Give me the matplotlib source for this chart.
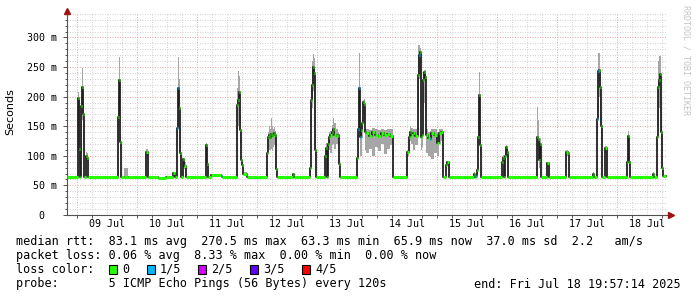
import numpy as np
import matplotlib
matplotlib.use("Agg")
import matplotlib.pyplot as plt
from matplotlib.patches import Rectangle

# time of each sample (hours after 2025-07-09 00:00), median rtt and smoke range (ms)
hours = [-4.05, 0.4, 0.8, 1.2, 1.6, 2.0, 2.4, 2.8, 3.6, 4.0, 4.4,
         16.4, 16.8, 17.2, 17.6, 18.8, 20.4,
         27.6, 28.4, 32.4, 35.6, 38.4, 39.2, 40.0, 40.4, 40.8, 41.2, 41.6, 42.4, 42.8, 43.6,
         51.6, 52.0, 52.4, 53.6, 57.6, 58.0, 64.0, 64.4, 64.8, 65.2, 65.6, 66.0, 66.4, 68.0,
         76.0, 76.4, 76.8, 77.2, 77.6, 78.0, 78.4, 78.8, 79.2, 79.6, 80.0, 86.4, 86.8,
         93.2, 93.6, 94.0, 94.4, 94.8, 95.2, 95.6, 99.2, 99.6, 100.0, 100.4, 100.8, 101.2,
         102.0, 102.4, 102.8, 103.6, 104.4, 104.8, 105.2,
         112.0, 112.4, 112.8, 113.2, 113.6, 114.0, 114.4, 114.8, 115.2, 115.6, 116.8, 118.0,
         119.2, 120.4, 121.6, 122.8, 124.0, 125.2, 126.4,
         132.0, 132.8, 133.2, 133.6, 134.4, 135.2, 136.4, 136.8, 137.2, 137.6, 138.0, 138.4,
         138.8, 139.2, 139.6, 140.4, 141.2, 141.6, 142.8, 144.0, 144.8, 145.6, 146.4,
         147.6, 148.0, 148.8,
         158.8, 159.2, 159.6, 160.0, 160.4, 160.8, 161.2, 161.6,
         170.0, 170.4, 170.8, 171.2, 171.6, 172.0, 172.4,
         184.0, 184.4, 184.8, 185.2, 185.6, 188.0, 188.8, 195.6, 196.4, 196.8,
         206.4, 206.8, 208.0, 208.4, 208.8, 209.2, 209.6, 210.0, 211.2, 212.0,
         220.0, 220.4, 220.8, 221.2, 230.4, 230.8,
         232.0, 232.4, 232.8, 233.2, 233.6, 234.0, 234.4, 235.6]

median_ms = [65, 197, 112, 65, 184, 217, 170, 65, 100, 97, 65,
             166, 229, 124, 65, 65, 65,
             107, 65, 63, 65, 71, 65, 147, 214, 180, 105, 65, 95, 83, 65,
             118, 87, 65, 67, 66, 65, 186, 194, 208, 144, 93, 85, 70, 65,
             105, 132, 135, 130, 137, 133, 136, 138, 135, 77, 65, 69, 65,
             79, 194, 220, 250, 240, 110, 65, 100, 113, 65, 120, 132, 135,
             140, 145, 135, 133, 135, 87, 65,
             96, 146, 214, 132, 144, 155, 191, 188, 140, 138, 134, 140,
             136, 133, 138, 135, 137, 134, 65,
             107, 132, 140, 135, 138, 133, 237, 270, 276, 132, 135, 228,
             242, 234, 135, 130, 129, 138, 135, 121, 138, 140, 65,
             85, 90, 65,
             70, 65, 66, 76, 132, 203, 118, 65,
             90, 96, 65, 100, 115, 107, 65,
             131, 129, 93, 120, 65, 88, 65, 107, 105, 65,
             70, 65, 163, 243, 245, 217, 150, 65, 113, 65,
             90, 133, 90, 65, 70, 65,
             132, 217, 229, 239, 140, 80, 66, 66]

smoke_lo = [64, 120, 85, 64, 100, 160, 120, 64, 95, 92, 64,
            125, 180, 110, 64, 64, 64,
            100, 64, 62, 64, 66, 64, 120, 150, 140, 95, 64, 90, 78, 64,
            110, 80, 64, 66, 65, 64, 140, 150, 160, 120, 88, 78, 68, 64,
            100, 115, 110, 110, 112, 108, 115, 118, 120, 72, 64, 66, 64,
            72, 150, 180, 210, 200, 90, 64, 95, 95, 64, 100, 110, 105,
            118, 120, 112, 120, 115, 80, 64,
            90, 130, 170, 100, 100, 130, 170, 160, 110, 105, 112, 100,
            115, 108, 120, 103, 112, 118, 64,
            100, 110, 125, 120, 110, 118, 180, 230, 230, 110, 115, 180,
            190, 180, 105, 100, 100, 95, 105, 100, 120, 125, 64,
            80, 85, 64,
            66, 64, 65, 70, 118, 150, 100, 64,
            85, 90, 64, 92, 105, 100, 64,
            115, 110, 80, 100, 64, 84, 64, 100, 100, 64,
            66, 64, 133, 180, 200, 160, 130, 64, 105, 64,
            85, 110, 85, 64, 66, 64,
            110, 150, 180, 200, 120, 72, 65, 65]

smoke_hi = [66, 208, 195, 66, 200, 249, 205, 66, 106, 104, 66,
            200, 267, 135, 66, 80, 66,
            111, 66, 64, 66, 73, 66, 160, 267, 230, 110, 66, 97, 90, 66,
            121, 95, 66, 68, 67, 66, 215, 244, 235, 170, 100, 90, 72, 66,
            108, 140, 150, 145, 164, 150, 145, 148, 142, 85, 66, 71, 66,
            85, 215, 260, 272, 265, 140, 66, 105, 122, 66, 125, 140, 142,
            152, 164, 155, 145, 140, 95, 66,
            100, 200, 274, 150, 150, 165, 195, 196, 145, 146, 144, 147,
            145, 144, 146, 144, 146, 145, 66,
            110, 140, 150, 147, 145, 146, 287, 287, 282, 140, 142, 242,
            245, 245, 145, 140, 142, 146, 145, 140, 146, 146, 66,
            90, 92, 66,
            72, 66, 67, 85, 180, 242, 130, 66,
            100, 101, 66, 104, 118, 112, 66,
            182, 160, 120, 130, 66, 90, 66, 110, 108, 66,
            72, 66, 190, 274, 274, 240, 170, 66, 116, 66,
            100, 142, 100, 66, 72, 66,
            140, 260, 268, 268, 200, 90, 67, 67]

# packet loss per sample (n of 5 pings lost)
loss = [0, 0, 0, 0, 0, 0, 0, 0, 0, 0, 0,
        0, 0, 0, 0, 0, 0,
        0, 0, 0, 0, 0, 0, 1, 1, 0, 0, 0, 0, 0, 0,
        0, 0, 0, 0, 1, 0, 0, 0, 0, 0, 0, 0, 0, 0,
        0, 0, 0, 0, 0, 0, 0, 0, 0, 0, 0, 0, 0,
        0, 0, 0, 0, 0, 0, 0, 0, 0, 0, 0, 0, 0,
        0, 0, 0, 0, 0, 0, 0,
        0, 1, 1, 1, 0, 0, 0, 0, 0, 0, 0, 0,
        0, 0, 0, 0, 0, 0, 0,
        0, 0, 0, 0, 0, 0, 0, 1, 0, 0, 0, 0,
        0, 0, 0, 0, 1, 0, 0, 0, 0, 0, 0,
        0, 0, 0,
        0, 0, 1, 0, 0, 0, 0, 0,
        0, 0, 0, 0, 0, 0, 0,
        0, 0, 0, 0, 0, 0, 0, 0, 0, 0,
        0, 0, 1, 1, 0, 0, 0, 0, 0, 0,
        0, 0, 0, 0, 0, 0,
        0, 0, 0, 0, 0, 0, 0, 0]

day_labels = ["09 Jul", "10 Jul", "11 Jul", "12 Jul", "13 Jul",
              "14 Jul", "15 Jul", "16 Jul", "17 Jul", "18 Jul"]
y_ticks = [0, 50, 100, 150, 200, 250, 300]
y_labels = ["0  ", "50 m", "100 m", "150 m", "200 m", "250 m", "300 m"]

loss_names = ["0", "1/5", "2/5", "3/5", "4/5"]
loss_colors = ["#26ff00", "#00b8ff", "#d400ff", "#6000ff", "#ff0000"]

t_start, t_end = -4.046, 235.954

fig = plt.figure(figsize=(6.97, 2.97), dpi=100)
fig.patch.set_facecolor("white")
ax = fig.add_axes([67 / 697, 82 / 297, 600 / 697, 202 / 297])
ax.set_xlim(t_start, t_end)
ax.set_ylim(0, 341.4)

# grid, drawn by hand like rrdtool does
for h in np.arange(0, 240, 6):
    if h % 24 == 0:
        ax.axvline(h, color="#eaa8a8", lw=0.72, ls=(0, (1, 1.5)), zorder=0)
    else:
        ax.axvline(h, color="#d2d2d2", lw=0.72, ls=(0, (1, 1.5)), zorder=0)
for v in np.arange(10, 341, 10):
    if v % 50 == 0:
        ax.axhline(v, color="#eaa8a8", lw=0.72, ls=(0, (1, 1.5)), zorder=0)
    else:
        ax.axhline(v, color="#d2d2d2", lw=0.72, ls=(0, (1, 1.5)), zorder=0)

t = np.array(hours)
med = np.array(median_ms, dtype=float)

# smoke
ax.fill_between(t, smoke_lo, smoke_hi, step="post", color="#a6a6a6", lw=0, zorder=1)
# median line
ax.step(t, med, where="post", color="#202020", lw=1.3, zorder=2)
# loss coloured median segments
for i in range(len(t) - 1):
    ax.hlines(med[i], t[i], t[i + 1], colors=loss_colors[loss[i]], lw=2.2,
              capstyle="butt", zorder=3)

# axes styling
for s in ["top", "right"]:
    ax.spines[s].set_visible(False)
for s in ["left", "bottom"]:
    ax.spines[s].set_color("#505050")
    ax.spines[s].set_linewidth(0.8)

ax.set_yticks(y_ticks, y_labels, family="DejaVu Sans Mono", fontsize=7.2)
ax.set_yticks(np.arange(0, 341, 10), minor=True)
ax.tick_params(axis="y", which="major", length=3, width=0.7, color="#505050", pad=4)
ax.tick_params(axis="y", which="minor", length=1.5, width=0.7, color="#505050")

ax.set_xticks(np.arange(12, 240, 24), day_labels, family="DejaVu Sans Mono", fontsize=7.2)
ax.set_xticks(np.arange(0, 240, 6), minor=True)
ax.tick_params(axis="x", which="major", length=0, pad=3)
ax.tick_params(axis="x", which="minor", length=2, width=0.7, color="#505050")

# arrows at the axis ends
ax.plot([0], [1 + 2.5 / 202], marker="^", ms=4.5, color="#a01010",
        transform=ax.transAxes, clip_on=False)
ax.plot([1 + 4 / 600], [0], marker=">", ms=4.5, color="#a01010",
        transform=ax.transAxes, clip_on=False)

fig.text(10 / 697, 1 - 112 / 297, "Seconds", rotation=90, fontsize=8,
         ha="center", va="center", family="DejaVu Sans")
fig.text(686 / 697, 1 - 60 / 297, "RRDTOOL / TOBI OETIKER", rotation=270,
         fontsize=6, color="#c4c4c4", ha="center", va="center", family="DejaVu Sans Mono")

mono = dict(family="DejaVu Sans Mono", fontsize=8.45, va="center", ha="left")
fig.text(16 / 697, 1 - 241 / 297,
         "median rtt:  83.1 ms avg  270.5 ms max  63.3 ms min  65.9 ms now  37.0 ms sd  2.2   am/s",
         **mono)
fig.text(16 / 697, 1 - 255.5 / 297,
         "packet loss: 0.06 % avg  8.33 % max  0.00 % min  0.00 % now", **mono)
fig.text(16 / 697, 1 - 269.5 / 297, "loss color:", **mono)
fig.text(16 / 697, 1 - 284 / 297,
         "probe:       5 ICMP Echo Pings (56 Bytes) every 120s", **mono)
fig.text(681 / 697, 1 - 284 / 297, "end: Fri Jul 18 19:57:14 2025",
         family="DejaVu Sans Mono", fontsize=8.45, va="center", ha="right")

box_x = [109, 147, 198, 250, 302]
for bx, name, col in zip(box_x, loss_names, loss_colors):
    fig.add_artist(Rectangle((bx / 697, (297 - 274) / 297), 8 / 697, 9 / 297,
                             transform=fig.transFigure, facecolor=col,
                             edgecolor="black", lw=0.8))
    fig.text((bx + 13) / 697, 1 - 269.5 / 297, name, **mono)

fig.savefig("out.png", dpi=100)
